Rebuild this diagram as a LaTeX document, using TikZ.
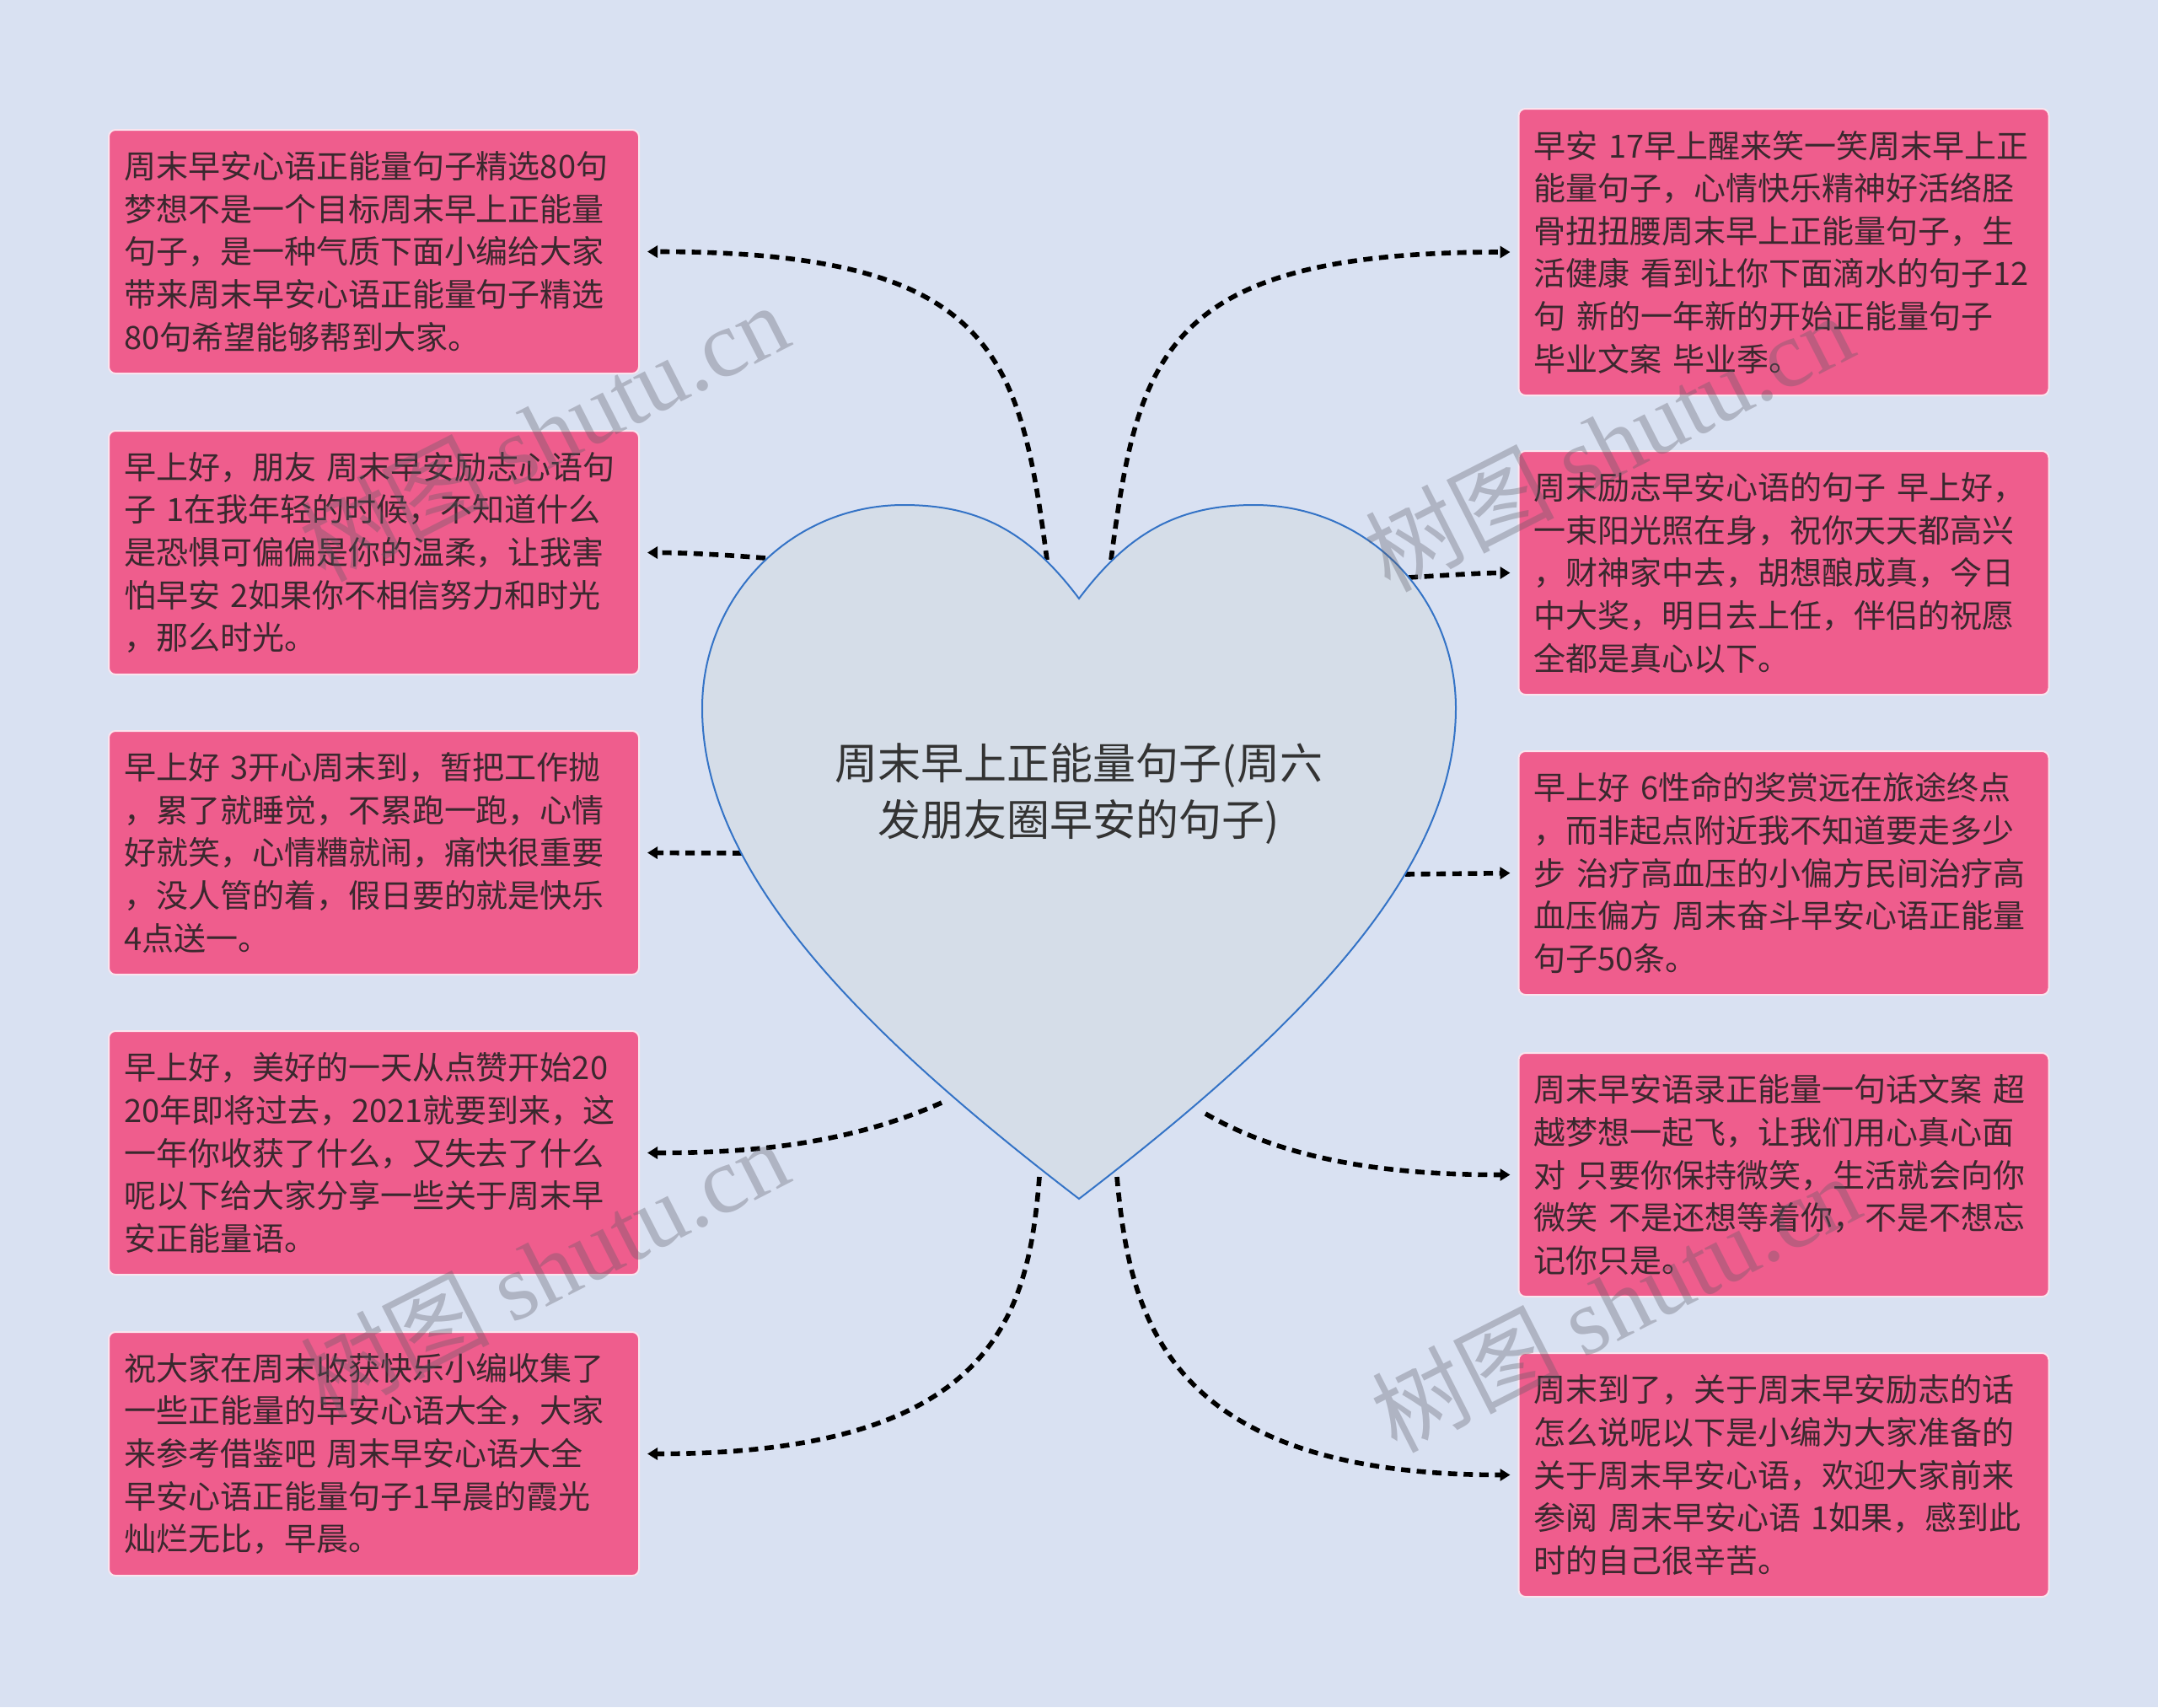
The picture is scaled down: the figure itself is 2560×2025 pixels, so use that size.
\documentclass[tikz,border=0pt]{standalone}
\usepackage{fontspec}
\setmainfont{Noto Sans CJK SC}
\newfontfamily\wmlatin{Liberation Serif}
\usetikzlibrary{arrows.meta}
\definecolor{bgc}{RGB}{217,225,242}
\definecolor{boxfill}{RGB}{239,93,141}
\definecolor{boxline}{RGB}{250,228,238}
\definecolor{txt}{RGB}{58,40,46}
\definecolor{heartfill}{RGB}{213,221,232}
\definecolor{heartline}{RGB}{52,115,198}
\definecolor{wm}{RGB}{90,90,100}
\begin{document}
\begin{tikzpicture}[x=0.5pt,y=-0.5pt,
 leaf/.style={draw=boxline, line width=1pt, fill=boxfill, rounded corners=4pt,
   minimum width=314.5pt, minimum height=144.5pt, text width=296.5pt,
   inner xsep=9pt, inner ysep=0pt, align=left, text=txt,
   font=\fontsize{19pt}{25.3pt}\selectfont},
 conn/.style={line width=2.8pt, dash pattern=on 5.5pt off 3.8pt,
   -{Triangle[length=6pt,width=7pt]}, shorten >=4.5pt},
 wmark/.style={text=wm, opacity=0.33, rotate=27, font=\fontsize{56pt}{56pt}\selectfont}
]
\useasboundingbox (0,0) rectangle (2560,2025);
\fill[bgc] (0,0) rectangle (2560,2025);

% boxes
\node[leaf] (L1) at (443.5,298.5) {周末早安心语正能量句子精选80句\\梦想不是一个目标周末早上正能量\\句子，是一种气质下面小编给大家\\带来周末早安心语正能量句子精选\\80句希望能够帮到大家。};
\node[leaf] (L2) at (443.5,655.5) {早上好，朋友~周末早安励志心语句\\子~1在我年轻的时候，不知道什么\\是恐惧可偏偏是你的温柔，让我害\\怕早安~2如果你不相信努力和时光\\，那么时光。};
\node[leaf] (L3) at (443.5,1011.5) {早上好~3开心周末到，暂把工作抛\\，累了就睡觉，不累跑一跑，心情\\好就笑，心情糟就闹，痛快很重要\\，没人管的着，假日要的就是快乐\\4点送一。};
\node[leaf] (L4) at (443.5,1367.5) {早上好，美好的一天从点赞开始20\\20年即将过去，2021就要到来，这\\一年你收获了什么，又失去了什么\\呢以下给大家分享一些关于周末早\\安正能量语。};
\node[leaf] (L5) at (443.5,1724.5) {祝大家在周末收获快乐小编收集了\\一些正能量的早安心语大全，大家\\来参考借鉴吧~周末早安心语大全\\早安心语正能量句子1早晨的霞光\\灿烂无比，早晨。};

\node[leaf, minimum height=170pt] (R1) at (2116,299) {早安~17早上醒来笑一笑周末早上正\\能量句子，心情快乐精神好活络胫\\骨扭扭腰周末早上正能量句子，生\\活健康~看到让你下面滴水的句子12\\句~新的一年新的开始正能量句子\\毕业文案~毕业季。};
\node[leaf] (R2) at (2116,679.5) {周末励志早安心语的句子~早上好，\\一束阳光照在身，祝你天天都高兴\\，财神家中去，胡想酿成真，今日\\中大奖，明日去上任，伴侣的祝愿\\全都是真心以下。};
\node[leaf] (R3) at (2116,1035.5) {早上好~6性命的奖赏远在旅途终点\\，而非起点附近我不知道要走多少\\步~治疗高血压的小偏方民间治疗高\\血压偏方~周末奋斗早安心语正能量\\句子50条。};
\node[leaf] (R4) at (2116,1393.5) {周末早安语录正能量一句话文案~超\\越梦想一起飞，让我们用心真心面\\对~只要你保持微笑，生活就会向你\\微笑~不是还想等着你，不是不想忘\\记你只是。};
\node[leaf] (R5) at (2116,1749.5) {周末到了，关于周末早安励志的话\\怎么说呢以下是小编为大家准备的\\关于周末早安心语，欢迎大家前来\\参阅~周末早安心语~1如果，感到此\\时的自己很辛苦。};

% heart anchor points
\coordinate (hL1) at (1242,664);
\coordinate (hL2) at (908,662);
\coordinate (hL3) at (880,1012);
\coordinate (hL4) at (1117,1308);
\coordinate (hL5) at (1233,1396);
\coordinate (hR1) at (1318,664);
\coordinate (hR2) at (1671,685);
\coordinate (hR3) at (1667,1037);
\coordinate (hR4) at (1430,1321);
\coordinate (hR5) at (1325,1396);

% connectors
\draw[conn] (hL1) .. controls (1210,420) and (1180,298.5) .. (L1.east);
\draw[conn] (hL2) .. controls (860,658) and (810,655.5) .. (L2.east);
\draw[conn] (hL3) -- (L3.east);
\draw[conn] (hL4) .. controls (1000,1360) and (880,1367.5) .. (L4.east);
\draw[conn] (hL5) .. controls (1220,1560) and (1180,1724.5) .. (L5.east);
\draw[conn] (hR1) .. controls (1350,420) and (1380,299) .. (R1.west);
\draw[conn] (hR2) .. controls (1720,682) and (1760,679.5) .. (R2.west);
\draw[conn] (hR3) -- (R3.west);
\draw[conn] (hR4) .. controls (1540,1385) and (1680,1393.5) .. (R4.west);
\draw[conn] (hR5) .. controls (1340,1560) and (1380,1749.5) .. (R5.west);

% heart
\draw[draw=heartline, fill=heartfill, line width=1pt]
 (1280,710) .. controls (1220,630) and (1160,599) .. (1072,599)
 .. controls (939,599) and (833,707) .. (833,840)
 .. controls (833,1030) and (1010,1215) .. (1280,1422)
 .. controls (1550,1215) and (1727,1030) .. (1727,840)
 .. controls (1727,707) and (1621,599) .. (1488,599)
 .. controls (1400,599) and (1340,630) .. (1280,710) -- cycle;
\node[align=center, text={rgb,255:red,51;green,51;blue,51}, font=\fontsize{25.5pt}{33.5pt}\selectfont] (center) at (1280,942) {周末早上正能量句子(周六\\发朋友圈早安的句子)};

% watermarks
\node[wmark] (wm1) at (645,512) {树图 {\wmlatin shutu.cn}};
\node[wmark] (wm2) at (1908,524) {树图 {\wmlatin shutu.cn}};
\node[wmark] (wm3) at (645,1504) {树图 {\wmlatin shutu.cn}};
\node[wmark] (wm4) at (1916,1545) {树图 {\wmlatin shutu.cn}};
\end{tikzpicture}
\end{document}
